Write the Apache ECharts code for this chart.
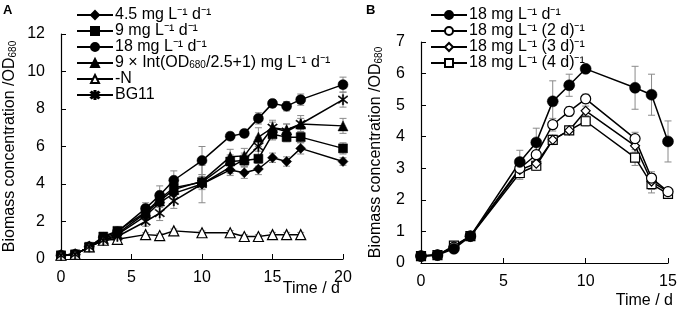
<!DOCTYPE html>
<html>
<head>
<meta charset="utf-8">
<script src="https://cdn.jsdelivr.net/npm/echarts@6/dist/echarts.min.js"></script>
<style>
  html, body { margin: 0; padding: 0; background: #fff; }
  #chart { width: 680px; height: 309px; }
</style>
</head>
<body>
<div id="chart"></div>
<script>
// panel A: nitrogen feeding regimes
const daysA = [0, 1, 2, 3, 4, 6, 7, 8, 10, 12, 13, 14, 15, 16, 17, 20]
const mg45 = [0.2, 0.25, 0.65, 1.0, 1.3, 2.3, 3.0, 3.5, 4.0, 4.75, 4.6, 4.8, 5.4, 5.2, 5.9, 5.2]
const mg9 = [0.2, 0.25, 0.65, 1.2, 1.5, 2.5, 3.2, 3.8, 4.1, 5.2, 5.25, 5.35, 6.65, 6.5, 6.5, 5.9]
const mg18 = [0.2, 0.25, 0.65, 1.15, 1.45, 2.7, 3.4, 4.2, 5.25, 6.55, 6.7, 7.5, 8.3, 8.15, 8.5, 9.3]
const mgInt = [0.2, 0.25, 0.65, 1.1, 1.35, 2.45, 3.1, 3.7, 4.15, 5.45, 5.5, 6.5, 7.0, 6.9, 7.2, 7.1]
const minusN = [0.2, 0.25, 0.65, 1.0, 1.05, 1.3, 1.25, 1.5, 1.4, 1.4, 1.2, 1.2, 1.3, 1.3, 1.3, null]
const bg11 = [0.2, 0.25, 0.65, 1.0, 1.2, 2.0, 2.45, 3.1, 4.0, 4.9, 5.3, 6.0, 7.0, 6.8, 7.2, 8.5]

const mg45Err = [0.02, 0.03, 0.05, 0.1, 0.1, 0.2, 0.25, 0.3, 0.3, 0.3, 0.3, 0.3, 0.25, 0.25, 0.3, 0.2]
const mg9Err = [0.02, 0.03, 0.05, 0.1, 0.15, 0.25, 0.3, 0.35, 0.3, 0.35, 0.3, 0.4, 0.3, 0.25, 0.3, 0.3]
const mg18Err = [0.02, 0.03, 0.05, 0.1, 0.15, 0.3, 0.5, 0.5, 0.75, 0.2, 0.2, 0.3, 0.2, 0.25, 0.3, 0.4]
const mgIntErr = [0.02, 0.03, 0.05, 0.1, 0.15, 0.25, 0.3, 0.35, 0.35, 0.4, 0.4, 0.5, 0.3, 0.3, 0.3, 0.4]
const minusNErr = [0.02, 0.03, 0.05, 0.1, 0.1, 0.1, 0.1, 0.1, 0.1, 0.12, 0.1, 0.1, 0.12, 0.12, 0.12, null]
const bg11Err = [0.02, 0.03, 0.05, 0.1, 0.1, 0.25, 0.4, 0.4, 1.0, 0.35, 0.35, 0.5, 0.4, 0.4, 0.45, 0.4]

// panel B: 18 mg dosing intervals
const daysB = [0, 1, 2, 3, 6, 7, 8, 9, 10, 13, 14, 15]
const b1d = [0.22, 0.25, 0.45, 0.85, 3.2, 3.82, 5.12, 5.63, 6.15, 5.55, 5.33, 3.85]
const b2d = [0.22, 0.25, 0.5, 0.85, 3.0, 3.43, 4.38, 4.8, 5.2, 3.94, 2.69, 2.26]
const b3d = [0.22, 0.25, 0.52, 0.85, 2.95, 3.15, 3.9, 4.2, 4.82, 3.71, 2.58, 2.26]
const b4d = [0.22, 0.25, 0.55, 0.85, 2.85, 3.08, 3.9, 4.2, 4.49, 3.34, 2.5, 2.19]

const b1dErr = [0.02, 0.03, 0.05, 0.05, 0.37, 0.45, 0.65, 0.35, 0.05, 0.68, 0.65, 0.65]
const b2dErr = [0.02, 0.03, 0.05, 0.05, 0.3, 0.3, 0.2, 0.15, 0.15, 0.2, 0.2, 0.12]
const b3dErr = [0.02, 0.03, 0.05, 0.05, 0.25, 0.2, 0.15, 0.1, 0.15, 0.2, 0.25, 0.1]
const b4dErr = [0.02, 0.03, 0.05, 0.05, 0.2, 0.15, 0.1, 0.1, 0.15, 0.25, 0.28, 0.1]

const namesA = ['4.5 mg L⁻¹ d⁻¹', '9 mg L⁻¹ d⁻¹', '18 mg L⁻¹ d⁻¹',
  '9 × Int(OD{sub|680}/2.5+1) mg L⁻¹ d⁻¹', '-N', 'BG11']
const namesB = ['18 mg L⁻¹ d⁻¹ ', '18 mg L⁻¹ (2 d)⁻¹', '18 mg L⁻¹ (3 d)⁻¹', '18 mg L⁻¹ (4 d)⁻¹']

const FONT = '"Liberation Sans", Arial, sans-serif'
const asterisk = 'path://M9,0L11,0L11,20L9,20Z M2.2,3.6L3.6,2.2L17.8,16.4L16.4,17.8Z M3.6,17.8L2.2,16.4L16.4,2.2L17.8,3.6Z'

const chart = echarts.init(document.getElementById('chart'))

function lineSeries(idx, name, days, vals, symbol, size, filled) {
  return {
    name,
    type: 'line',
    xAxisIndex: idx,
    yAxisIndex: idx,
    data: days.map((d, i) => [d, vals[i]]),
    symbol,
    symbolSize: size,
    showSymbol: true,
    connectNulls: false,
    z: 3,
    lineStyle: { color: '#000', width: 1.5 },
    itemStyle: {
      color: filled ? '#000' : '#fff',
      borderColor: '#000',
      borderWidth: filled ? 0.5 : 1.2,
    },
    emphasis: { disabled: true },
  }
}

function errSeries(idx, days, vals, errs) {
  const data = []
  days.forEach((d, i) => {
    if (vals[i] != null && errs[i]) data.push([d, vals[i] - errs[i], vals[i] + errs[i]])
  })
  return {
    type: 'custom',
    xAxisIndex: idx,
    yAxisIndex: idx,
    silent: true,
    z: 1,
    encode: { x: 0, y: [1, 2] },
    data,
    renderItem(params, api) {
      const x = api.value(0)
      const lo = api.coord([x, api.value(1)])
      const hi = api.coord([x, api.value(2)])
      const w = 3.5
      const style = { stroke: '#8a8a8a', lineWidth: 1 }
      return {
        type: 'group',
        children: [
          { type: 'line', shape: { x1: lo[0], y1: lo[1], x2: hi[0], y2: hi[1] }, style },
          { type: 'line', shape: { x1: hi[0] - w, y1: hi[1], x2: hi[0] + w, y2: hi[1] }, style },
          { type: 'line', shape: { x1: lo[0] - w, y1: lo[1], x2: lo[0] + w, y2: lo[1] }, style },
        ],
      }
    },
  }
}

const subRich = {
  sub: { fontSize: 10, fontFamily: FONT, color: '#000', verticalAlign: 'bottom', padding: [5, 0, 0, 0] },
}

function xAxisCfg(idx, max, gap, pad) {
  return {
    gridIndex: idx,
    type: 'value',
    min: 0,
    max,
    interval: 5,
    name: 'Time / d',
    nameLocation: 'end',
    nameGap: gap,
    nameMoveOverlap: false,
    nameTextStyle: { fontFamily: FONT, fontSize: 16, color: '#000', align: 'right', verticalAlign: 'top', padding: pad },
    axisLine: { lineStyle: { color: '#000', width: 1.2 } },
    axisTick: { inside: true, length: 5, lineStyle: { color: '#000' } },
    axisLabel: { fontFamily: FONT, fontSize: 16, color: '#000', margin: 11 },
    splitLine: { show: false },
  }
}

function yAxisCfg(idx, max, interval, gap) {
  return {
    gridIndex: idx,
    type: 'value',
    min: 0,
    max,
    interval,
    name: 'Biomass concentration /OD{sub|680}',
    nameLocation: 'middle',
    nameGap: gap,
    nameTextStyle: { fontFamily: FONT, fontSize: 16, color: '#000', rich: subRich },
    axisLine: { show: true, lineStyle: { color: '#000', width: 1.2 } },
    axisTick: { show: true, inside: true, length: 5, lineStyle: { color: '#000' } },
    axisLabel: { fontFamily: FONT, fontSize: 16, color: '#000', margin: 16 },
    splitLine: { show: false },
  }
}

function legendCfg(names, left, top) {
  return {
    data: names,
    orient: 'vertical',
    left,
    top,
    itemWidth: 36,
    itemHeight: 10,
    itemGap: 0,
    padding: 0,
    textStyle: { fontFamily: FONT, fontSize: 16, color: '#000', lineHeight: 15, padding: [0, 0, 0, -3], rich: subRich },
  }
}

chart.setOption({
  animation: false,
  backgroundColor: '#fff',
  graphic: [
    { type: 'text', left: 3, top: 4, style: { text: 'A', font: 'bold 13px ' + FONT, fill: '#000' } },
    { type: 'text', left: 366, top: 4, style: { text: 'B', font: 'bold 13px ' + FONT, fill: '#000' } },
  ],
  grid: [
    { left: 61, top: 34, width: 282, height: 225 },
    { left: 421, top: 42, width: 247, height: 221 },
  ],
  xAxis: [xAxisCfg(0, 20, 0, [22, 3, 0, 0]), xAxisCfg(1, 15, 5, [30, 0, 0, 0])],
  yAxis: [yAxisCfg(0, 12, 2, 43), yAxisCfg(1, 7, 1, 37)],
  legend: [legendCfg(namesA, 76, 7), legendCfg(namesB, 430, 7)],
  series: [
    errSeries(0, daysA, mg45, mg45Err),
    errSeries(0, daysA, mg9, mg9Err),
    errSeries(0, daysA, mg18, mg18Err),
    errSeries(0, daysA, mgInt, mgIntErr),
    errSeries(0, daysA, minusN, minusNErr),
    errSeries(0, daysA, bg11, bg11Err),
    lineSeries(0, namesA[0], daysA, mg45, 'diamond', 10, true),
    lineSeries(0, namesA[1], daysA, mg9, 'rect', 9, true),
    lineSeries(0, namesA[2], daysA, mg18, 'circle', 10, true),
    lineSeries(0, namesA[3], daysA, mgInt, 'triangle', 10, true),
    lineSeries(0, namesA[4], daysA, minusN, 'triangle', 10, false),
    lineSeries(0, namesA[5], daysA, bg11, asterisk, 10, true),
    errSeries(1, daysB, b1d, b1dErr),
    errSeries(1, daysB, b2d, b2dErr),
    errSeries(1, daysB, b3d, b3dErr),
    errSeries(1, daysB, b4d, b4dErr),
    lineSeries(1, namesB[3], daysB, b4d, 'rect', 9, false),
    lineSeries(1, namesB[2], daysB, b3d, 'diamond', 9, false),
    lineSeries(1, namesB[1], daysB, b2d, 'circle', 10, false),
    lineSeries(1, namesB[0], daysB, b1d, 'circle', 11, true),
  ],
})
</script>
</body>
</html>
